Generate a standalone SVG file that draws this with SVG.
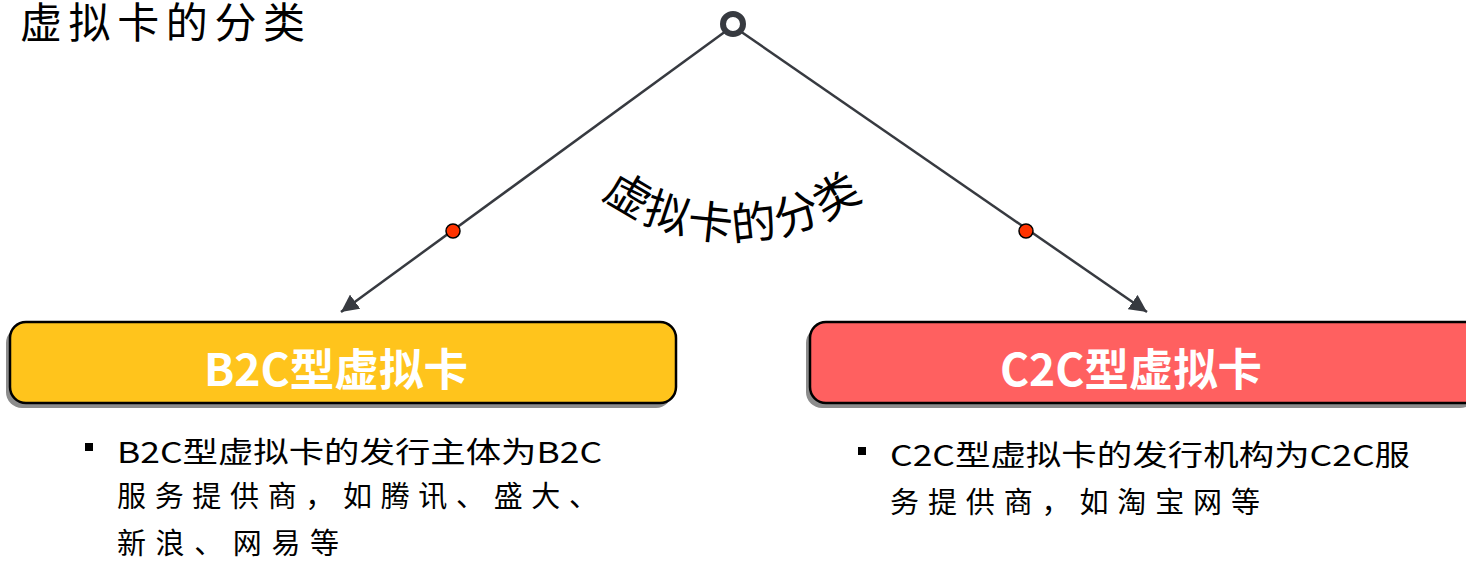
<svg xmlns="http://www.w3.org/2000/svg" width="1466" height="566" viewBox="0 0 1466 566">
<style>
.cjk{font-family:"Noto Sans CJK SC","Noto Sans",sans-serif;}
.line{stroke:#373a40;stroke-width:2.5;fill:none;}
.dot{fill:#ff3300;stroke:#000;stroke-width:1.5;}
.box-shadow{fill:#8c8c8c;}
.box{stroke:#000;stroke-width:2.5;}
.boxlabel{font-family:"Noto Sans CJK SC",sans-serif;font-weight:bold;font-size:44px;fill:#fff;}
.body{font-family:"Noto Sans CJK SC",sans-serif;font-size:29px;fill:#000;}
.bullet{fill:#000;}
</style>
<defs>
<marker id="arrow" viewBox="0 0 10 10" refX="10" refY="5" markerWidth="7" markerHeight="7" markerUnits="strokeWidth" orient="auto">
<path d="M0,0 L10,5 L0,10 z" fill="#373a40"/>
</marker>
<path id="arcpath" d="M 577.4 175.6 A 220 220 0 0 0 888.6 175.6"/>
</defs>
<rect width="1466" height="566" fill="#fff"/>
<text class="cjk" x="20" y="38" font-size="42" textLength="285" lengthAdjust="spacing">虚拟卡的分类</text>
<g id="connectors">
<line class="line" x1="726" y1="31" x2="341" y2="312" marker-end="url(#arrow)"/>
<line class="line" x1="740" y1="31" x2="1147" y2="312" marker-end="url(#arrow)"/>
<circle class="dot" cx="453" cy="231" r="7"/>
<circle class="dot" cx="1026" cy="231" r="7"/>
</g>
<g id="root">
<circle cx="733" cy="24" r="10" fill="#fff" stroke="#373a40" stroke-width="6"/>
<text class="cjk" font-size="45" letter-spacing="2" fill="#000"><textPath href="#arcpath" startOffset="50%" text-anchor="middle">虚拟卡的分类</textPath></text>
</g>
<g id="b2c">
<rect class="box-shadow" x="6" y="327" width="666" height="81" rx="16"/>
<rect class="box" x="10" y="322" width="666" height="81" rx="16" fill="#ffc41c"/>
<text class="boxlabel" x="336" y="386" text-anchor="middle" textLength="264" lengthAdjust="spacingAndGlyphs">B2C型虚拟卡</text>
</g>
<g id="c2c">
<rect class="box-shadow" x="806" y="327" width="670" height="81" rx="16"/>
<rect class="box" x="810" y="322" width="670" height="81" rx="16" fill="#ff6060"/>
<text class="boxlabel" x="1131" y="386" text-anchor="middle" textLength="262" lengthAdjust="spacingAndGlyphs">C2C型虚拟卡</text>
</g>
<g id="b2c-desc">
<rect class="bullet" x="85" y="443" width="8" height="8"/>
<text class="body" x="117" y="463" textLength="485" lengthAdjust="spacingAndGlyphs">B2C型虚拟卡的发行主体为B2C</text>
<text class="body" x="117" y="507" textLength="481" lengthAdjust="spacing">服务提供商，如腾讯、盛大、</text>
<text class="body" x="117" y="554" textLength="222" lengthAdjust="spacing">新浪、网易等</text>
</g>
<g id="c2c-desc">
<rect class="bullet" x="858" y="447" width="8" height="8"/>
<text class="body" x="890" y="466" textLength="520" lengthAdjust="spacingAndGlyphs">C2C型虚拟卡的发行机构为C2C服</text>
<text class="body" x="890" y="513" textLength="370" lengthAdjust="spacing">务提供商，如淘宝网等</text>
</g>
</svg>
